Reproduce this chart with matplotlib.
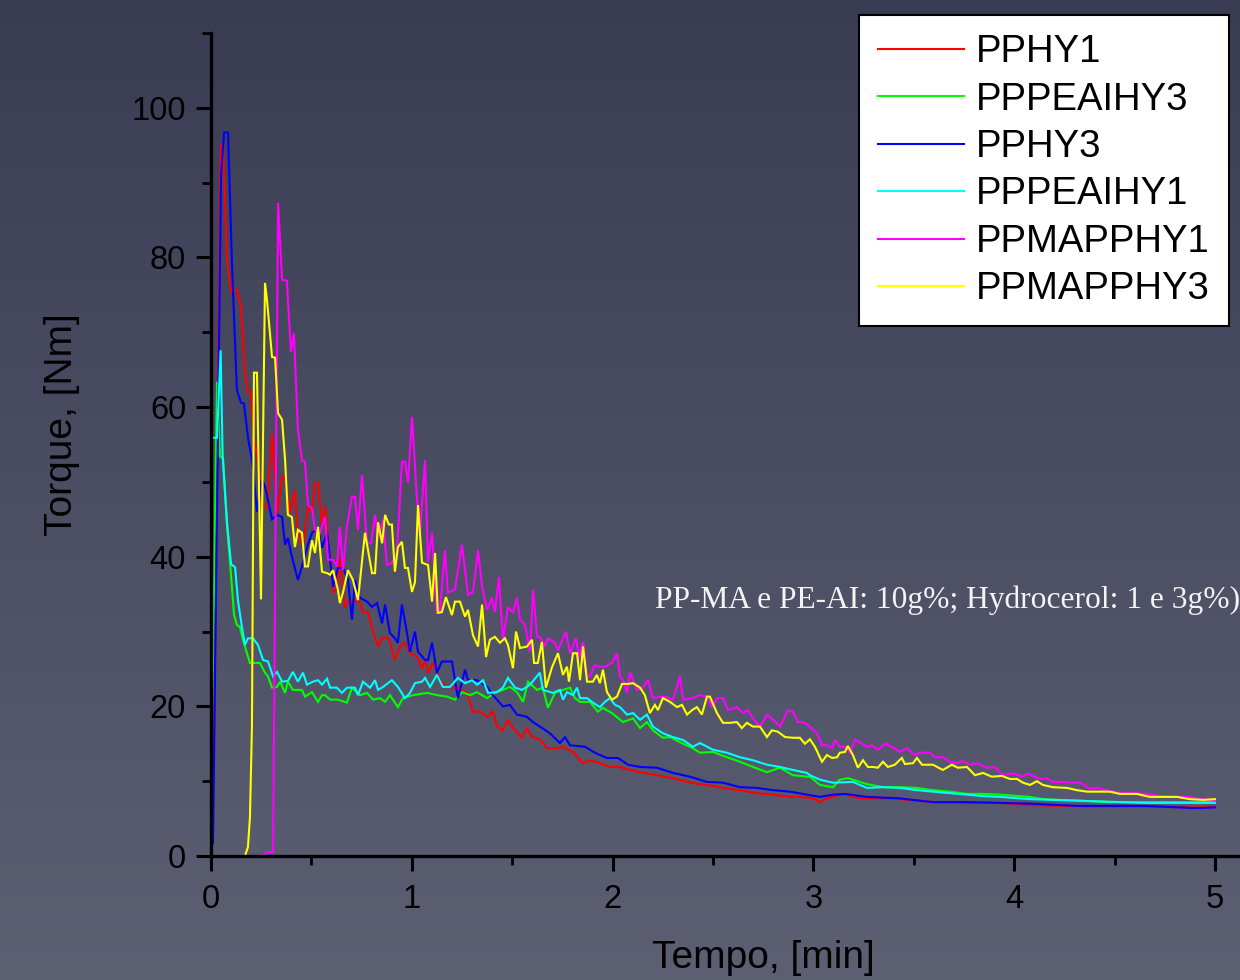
import numpy as np
import matplotlib
matplotlib.use("Agg")
import matplotlib.pyplot as plt
from matplotlib.ticker import MultipleLocator

# ---------------- data (time [min], torque [Nm]) ----------------
labels = ["PPHY1", "PPPEAIHY3", "PPHY3", "PPPEAIHY1", "PPMAPPHY1", "PPMAPPHY3"]
colors = ["#ff0000", "#00ff00", "#0000ff", "#00ffff", "#ff00ff", "#ffff00"]

pphy1 = [(0.015, 12.0), (0.045, 90.0), (0.050, 94.8), (0.060, 95.3), (0.080, 79.7), (0.100, 75.4), (0.129, 75.7), (0.149, 73.4), (0.169, 64.5), (0.184, 62.0), (0.199, 61.9), (0.214, 56.0), (0.244, 50.7), (0.259, 46.7), (0.279, 46.5), (0.304, 56.5), (0.329, 45.8), (0.354, 50.7), (0.369, 50.5), (0.393, 45.8), (0.418, 48.9), (0.433, 43.2), (0.458, 41.3), (0.483, 46.7), (0.503, 45.8), (0.518, 49.9), (0.533, 49.9), (0.553, 44.0), (0.568, 46.7), (0.593, 39.6), (0.608, 35.2), (0.627, 35.6), (0.642, 39.8), (0.667, 33.2), (0.682, 34.0), (0.717, 34.2), (0.742, 34.0), (0.757, 32.6), (0.782, 32.6), (0.807, 30.0), (0.832, 28.0), (0.852, 29.1), (0.876, 29.3), (0.891, 28.6), (0.916, 26.2), (0.941, 28.0), (0.966, 28.5), (0.991, 27.1), (1.026, 26.6), (1.051, 25.1), (1.066, 26.2), (1.081, 24.5), (1.106, 25.8), (1.140, 23.5), (1.175, 22.6), (1.225, 22.5), (1.275, 21.8), (1.305, 19.3), (1.340, 19.3), (1.375, 18.6), (1.404, 19.3), (1.424, 17.3), (1.454, 16.8), (1.479, 18.2), (1.504, 17.1), (1.549, 15.8), (1.574, 17.1), (1.599, 15.9), (1.638, 15.6), (1.673, 14.4), (1.723, 14.4), (1.753, 14.6), (1.803, 13.9), (1.853, 12.4), (1.887, 12.8), (1.937, 12.4), (1.987, 11.9), (2.037, 11.9), (2.087, 11.5), (2.137, 11.2), (2.221, 10.8), (2.301, 10.4), (2.386, 9.8), (2.470, 9.5), (2.550, 9.1), (2.634, 8.8), (2.719, 8.4), (2.799, 8.2), (2.883, 7.9), (2.933, 7.9), (2.998, 7.7), (3.033, 7.2), (3.068, 7.7), (3.147, 8.3), (3.232, 7.7), (3.347, 7.7), (3.431, 7.6), (3.596, 7.2), (3.765, 7.1), (3.929, 7.1), (4.079, 6.8), (4.427, 6.6), (4.676, 6.6), (4.925, 6.5), (5.000, 6.6)]

pppeaihy3 = [(0.005, 17.0), (0.030, 63.4), (0.045, 53.4), (0.060, 53.2), (0.080, 44.0), (0.095, 39.2), (0.115, 32.2), (0.129, 30.9), (0.144, 30.6), (0.159, 28.9), (0.194, 25.8), (0.244, 25.8), (0.269, 24.5), (0.284, 24.0), (0.304, 22.5), (0.329, 22.6), (0.344, 23.3), (0.369, 21.8), (0.383, 23.3), (0.408, 22.2), (0.453, 22.2), (0.468, 21.3), (0.503, 21.9), (0.533, 20.6), (0.553, 21.5), (0.568, 21.5), (0.593, 20.9), (0.632, 20.9), (0.677, 20.5), (0.702, 22.5), (0.742, 21.5), (0.777, 21.8), (0.807, 20.9), (0.842, 21.1), (0.867, 20.6), (0.891, 21.5), (0.931, 19.9), (0.956, 21.1), (1.006, 21.5), (1.076, 21.8), (1.125, 21.5), (1.175, 21.3), (1.215, 20.9), (1.250, 21.9), (1.290, 21.5), (1.325, 21.9), (1.375, 21.1), (1.414, 21.8), (1.454, 22.2), (1.489, 22.6), (1.524, 21.9), (1.554, 20.6), (1.579, 23.3), (1.624, 22.2), (1.653, 22.5), (1.678, 19.8), (1.713, 21.8), (1.753, 22.2), (1.788, 22.5), (1.813, 21.1), (1.838, 20.6), (1.887, 20.6), (1.927, 19.3), (1.952, 19.8), (1.997, 19.1), (2.052, 17.9), (2.102, 18.4), (2.137, 17.1), (2.171, 17.9), (2.201, 16.8), (2.251, 15.8), (2.286, 15.9), (2.336, 15.2), (2.400, 14.4), (2.435, 13.8), (2.500, 13.9), (2.570, 13.2), (2.634, 12.6), (2.699, 11.9), (2.769, 11.2), (2.834, 11.8), (2.898, 10.8), (2.968, 10.6), (2.983, 10.6), (3.033, 9.5), (3.098, 9.2), (3.132, 10.2), (3.172, 10.4), (3.197, 10.2), (3.267, 9.6), (3.347, 9.2), (3.431, 9.2), (3.516, 9.1), (3.596, 8.8), (3.680, 8.6), (3.765, 8.3), (3.845, 8.3), (3.929, 8.2), (4.079, 7.9), (4.143, 7.6), (4.313, 7.4), (4.477, 7.2), (4.641, 7.2), (4.811, 7.2), (5.000, 7.2)]

pphy3 = [(0.000, 1.5), (0.010, 1.7), (0.050, 91.0), (0.065, 96.7), (0.085, 96.7), (0.105, 78.7), (0.129, 62.3), (0.149, 60.6), (0.164, 60.5), (0.184, 56.0), (0.209, 52.0), (0.229, 46.0), (0.254, 50.3), (0.269, 49.4), (0.304, 45.0), (0.329, 45.6), (0.354, 45.3), (0.369, 41.6), (0.383, 42.5), (0.403, 40.0), (0.433, 36.9), (0.453, 38.7), (0.478, 41.2), (0.503, 43.2), (0.533, 43.8), (0.553, 41.2), (0.578, 43.2), (0.608, 36.0), (0.632, 38.5), (0.657, 38.5), (0.682, 37.0), (0.702, 31.6), (0.717, 36.9), (0.742, 34.5), (0.777, 34.0), (0.802, 33.3), (0.827, 33.8), (0.852, 31.1), (0.867, 33.6), (0.891, 29.8), (0.916, 29.1), (0.931, 28.5), (0.951, 33.6), (0.976, 29.8), (0.991, 27.3), (1.016, 30.0), (1.031, 27.3), (1.066, 26.2), (1.081, 26.2), (1.101, 28.5), (1.125, 24.5), (1.150, 26.0), (1.200, 26.0), (1.230, 21.1), (1.265, 24.9), (1.280, 23.5), (1.325, 23.5), (1.375, 22.6), (1.404, 21.5), (1.454, 20.0), (1.489, 20.2), (1.524, 18.9), (1.574, 18.6), (1.604, 17.9), (1.638, 17.3), (1.688, 16.4), (1.738, 15.1), (1.763, 15.9), (1.788, 14.8), (1.863, 14.6), (1.912, 13.8), (1.972, 13.1), (2.027, 13.1), (2.077, 12.2), (2.137, 11.9), (2.221, 11.8), (2.301, 11.1), (2.386, 10.6), (2.470, 9.9), (2.550, 9.8), (2.634, 9.2), (2.719, 9.1), (2.799, 8.8), (2.883, 8.6), (2.968, 8.2), (3.033, 7.9), (3.098, 8.2), (3.157, 8.3), (3.267, 7.9), (3.431, 7.7), (3.596, 7.2), (3.765, 7.2), (3.929, 7.1), (4.079, 7.0), (4.313, 6.7), (4.641, 6.7), (4.910, 6.4), (5.000, 6.5)]

pppeaihy1 = [(0.010, 55.9), (0.030, 55.9), (0.048, 67.6), (0.058, 53.4), (0.080, 44.5), (0.100, 39.0), (0.120, 38.6), (0.134, 34.2), (0.154, 30.6), (0.169, 28.2), (0.184, 29.1), (0.209, 29.1), (0.234, 28.2), (0.259, 26.2), (0.284, 26.0), (0.309, 24.0), (0.329, 24.6), (0.354, 23.3), (0.383, 23.4), (0.408, 24.6), (0.433, 23.3), (0.458, 24.5), (0.478, 22.9), (0.508, 23.3), (0.533, 23.5), (0.553, 22.9), (0.578, 23.7), (0.593, 22.5), (0.627, 22.5), (0.652, 21.8), (0.677, 22.5), (0.717, 22.5), (0.732, 21.5), (0.757, 23.3), (0.792, 22.5), (0.817, 23.5), (0.832, 22.2), (0.857, 22.6), (0.901, 23.5), (0.931, 22.6), (0.966, 21.1), (0.991, 21.8), (1.016, 23.1), (1.051, 23.3), (1.066, 23.8), (1.091, 22.6), (1.125, 24.2), (1.155, 22.6), (1.190, 22.6), (1.230, 23.8), (1.265, 23.1), (1.300, 23.5), (1.325, 22.9), (1.355, 23.5), (1.380, 21.8), (1.424, 21.9), (1.454, 22.5), (1.479, 23.8), (1.514, 22.5), (1.549, 22.2), (1.589, 22.9), (1.638, 24.5), (1.653, 22.2), (1.703, 21.8), (1.738, 22.2), (1.753, 20.9), (1.773, 21.9), (1.803, 21.5), (1.823, 22.5), (1.838, 21.1), (1.873, 21.1), (1.902, 20.5), (1.937, 19.9), (1.962, 20.6), (1.987, 21.1), (2.012, 20.2), (2.037, 19.9), (2.072, 18.9), (2.102, 19.1), (2.137, 18.2), (2.171, 18.9), (2.201, 17.3), (2.251, 16.4), (2.301, 15.9), (2.351, 15.5), (2.400, 14.6), (2.435, 15.1), (2.500, 14.2), (2.570, 13.8), (2.634, 13.2), (2.699, 12.8), (2.769, 12.2), (2.834, 11.9), (2.898, 11.5), (2.968, 11.1), (2.983, 10.8), (3.033, 10.2), (3.098, 9.8), (3.197, 9.9), (3.267, 9.1), (3.347, 9.2), (3.431, 9.1), (3.516, 8.8), (3.596, 8.6), (3.680, 8.4), (3.765, 8.2), (3.845, 8.0), (3.929, 7.9), (4.079, 7.6), (4.313, 7.4), (4.641, 7.1), (5.000, 7.1)]

ppmapphy1 = [(0.000, 0.0), (0.254, 0.0), (0.279, 0.5), (0.309, 0.5), (0.334, 87.3), (0.354, 77.0), (0.378, 76.9), (0.398, 67.4), (0.413, 69.9), (0.433, 57.0), (0.453, 52.9), (0.468, 52.7), (0.483, 46.9), (0.503, 46.5), (0.518, 43.6), (0.543, 43.2), (0.568, 45.3), (0.583, 39.6), (0.608, 39.6), (0.627, 38.7), (0.642, 44.0), (0.657, 38.2), (0.677, 44.0), (0.702, 48.0), (0.717, 48.0), (0.732, 43.6), (0.752, 50.9), (0.777, 41.8), (0.797, 41.8), (0.817, 45.6), (0.832, 42.6), (0.857, 44.9), (0.876, 38.9), (0.901, 39.2), (0.926, 40.5), (0.951, 52.7), (0.966, 52.7), (0.981, 49.9), (1.001, 58.7), (1.026, 47.6), (1.041, 43.3), (1.066, 52.9), (1.081, 39.3), (1.101, 43.2), (1.125, 32.5), (1.140, 32.5), (1.165, 40.9), (1.180, 35.2), (1.215, 35.6), (1.250, 41.6), (1.280, 34.9), (1.305, 35.3), (1.330, 40.9), (1.350, 36.0), (1.375, 32.9), (1.399, 34.5), (1.414, 32.6), (1.434, 37.3), (1.454, 28.9), (1.479, 33.3), (1.504, 32.5), (1.524, 34.5), (1.539, 31.6), (1.564, 30.9), (1.589, 27.3), (1.604, 35.6), (1.624, 29.3), (1.638, 29.3), (1.663, 28.0), (1.678, 29.1), (1.713, 28.5), (1.728, 27.5), (1.768, 30.0), (1.788, 27.1), (1.818, 29.1), (1.833, 26.5), (1.853, 28.6), (1.873, 24.0), (1.887, 24.0), (1.912, 25.5), (1.937, 25.3), (1.962, 25.3), (1.997, 25.8), (2.022, 27.1), (2.037, 24.0), (2.052, 23.5), (2.072, 21.8), (2.087, 24.5), (2.122, 22.2), (2.151, 22.5), (2.176, 23.5), (2.201, 21.1), (2.236, 21.3), (2.261, 21.3), (2.301, 20.9), (2.336, 24.0), (2.351, 20.9), (2.400, 21.1), (2.435, 21.5), (2.470, 21.3), (2.495, 19.9), (2.520, 21.1), (2.550, 21.1), (2.575, 19.5), (2.619, 19.9), (2.649, 19.1), (2.674, 19.5), (2.699, 18.4), (2.734, 17.3), (2.769, 18.9), (2.799, 18.2), (2.834, 17.3), (2.873, 19.5), (2.898, 19.3), (2.923, 17.9), (2.948, 17.9), (2.973, 17.5), (3.018, 16.4), (3.043, 14.8), (3.068, 14.8), (3.093, 14.4), (3.108, 15.5), (3.132, 14.6), (3.157, 14.6), (3.182, 13.8), (3.207, 15.5), (3.232, 15.2), (3.267, 14.6), (3.292, 14.8), (3.321, 14.2), (3.357, 15.0), (3.391, 14.6), (3.431, 13.9), (3.466, 14.4), (3.506, 13.5), (3.531, 13.8), (3.581, 13.8), (3.606, 13.2), (3.645, 13.2), (3.680, 12.6), (3.715, 12.4), (3.745, 12.7), (3.780, 12.2), (3.815, 12.4), (3.865, 11.8), (3.904, 11.9), (3.944, 10.8), (3.979, 11.0), (4.004, 11.0), (4.039, 10.6), (4.069, 11.0), (4.128, 10.3), (4.163, 10.4), (4.193, 9.9), (4.243, 9.9), (4.278, 9.8), (4.328, 9.8), (4.377, 9.0), (4.412, 9.1), (4.477, 8.7), (4.542, 8.4), (4.592, 8.4), (4.661, 8.3), (4.726, 8.0), (4.811, 7.9), (4.875, 7.9), (4.940, 7.6), (5.000, 7.4)]

ppmapphy3 = [(0.000, 0.0), (0.169, 0.0), (0.184, 1.2), (0.194, 5.2), (0.204, 17.3), (0.214, 64.6), (0.229, 64.6), (0.249, 34.3), (0.269, 76.6), (0.279, 74.3), (0.304, 66.7), (0.319, 66.6), (0.334, 59.2), (0.354, 58.3), (0.369, 52.9), (0.383, 45.6), (0.403, 45.3), (0.418, 41.3), (0.433, 43.6), (0.453, 43.2), (0.468, 38.7), (0.483, 38.7), (0.503, 42.2), (0.518, 40.5), (0.533, 44.0), (0.553, 38.0), (0.578, 37.8), (0.593, 37.6), (0.608, 38.2), (0.632, 35.6), (0.642, 33.8), (0.657, 35.2), (0.682, 38.2), (0.707, 36.9), (0.732, 34.2), (0.767, 43.2), (0.802, 37.8), (0.817, 37.8), (0.832, 44.6), (0.852, 41.8), (0.867, 45.6), (0.886, 44.3), (0.901, 44.3), (0.916, 38.0), (0.931, 41.3), (0.951, 42.0), (0.966, 38.5), (0.981, 38.5), (1.001, 35.3), (1.016, 36.6), (1.031, 46.9), (1.051, 39.2), (1.081, 38.9), (1.101, 34.0), (1.116, 40.5), (1.130, 32.5), (1.150, 32.6), (1.170, 34.6), (1.200, 32.2), (1.215, 34.0), (1.240, 34.0), (1.265, 32.0), (1.280, 32.9), (1.305, 29.5), (1.330, 28.0), (1.350, 33.6), (1.370, 26.6), (1.389, 28.9), (1.414, 29.3), (1.439, 28.5), (1.464, 29.1), (1.479, 28.2), (1.504, 25.1), (1.519, 30.0), (1.539, 27.8), (1.574, 28.0), (1.599, 28.9), (1.609, 25.8), (1.628, 25.8), (1.648, 28.6), (1.668, 22.5), (1.698, 25.2), (1.728, 27.1), (1.753, 24.2), (1.773, 25.3), (1.783, 23.3), (1.803, 27.1), (1.823, 27.1), (1.838, 23.5), (1.853, 28.0), (1.873, 23.3), (1.902, 23.3), (1.922, 24.2), (1.937, 23.1), (1.952, 24.9), (1.972, 21.9), (1.997, 20.9), (2.022, 21.3), (2.047, 23.0), (2.077, 23.0), (2.102, 23.1), (2.137, 22.5), (2.161, 21.5), (2.186, 19.1), (2.211, 20.2), (2.226, 19.5), (2.251, 21.1), (2.286, 20.6), (2.321, 19.9), (2.346, 20.2), (2.371, 18.9), (2.396, 19.5), (2.420, 19.9), (2.445, 18.9), (2.470, 21.3), (2.485, 21.3), (2.520, 19.1), (2.550, 17.8), (2.585, 17.8), (2.619, 17.9), (2.644, 17.1), (2.669, 17.8), (2.699, 17.3), (2.734, 17.3), (2.769, 15.9), (2.794, 16.8), (2.824, 16.6), (2.859, 15.9), (2.898, 15.8), (2.933, 15.8), (2.958, 15.0), (2.983, 15.6), (3.008, 14.6), (3.043, 12.6), (3.068, 13.5), (3.093, 13.1), (3.118, 13.2), (3.132, 13.8), (3.157, 13.9), (3.172, 14.7), (3.197, 13.5), (3.222, 11.8), (3.247, 12.8), (3.272, 11.9), (3.296, 11.9), (3.321, 11.8), (3.347, 12.6), (3.371, 11.9), (3.406, 12.2), (3.441, 13.1), (3.456, 12.3), (3.496, 12.4), (3.516, 13.1), (3.541, 12.2), (3.596, 12.2), (3.645, 11.5), (3.690, 12.2), (3.720, 11.8), (3.765, 11.9), (3.805, 10.8), (3.845, 11.1), (3.889, 10.6), (3.939, 10.7), (3.979, 10.3), (4.014, 10.3), (4.044, 9.8), (4.079, 9.5), (4.114, 10.0), (4.143, 9.5), (4.193, 9.2), (4.263, 9.1), (4.313, 8.8), (4.363, 8.6), (4.477, 8.6), (4.527, 8.3), (4.611, 8.3), (4.676, 7.9), (4.741, 7.9), (4.811, 7.9), (4.875, 7.6), (4.940, 7.5), (5.000, 7.6)]

series = [pphy1, pppeaihy3, pphy3, pppeaihy1, ppmapphy1, ppmapphy3]

x_major = [0, 1, 2, 3, 4, 5]
y_major = [0, 20, 40, 60, 80, 100]
annotation = "PP-MA e PE-AI: 10g%; Hydrocerol: 1 e 3g%)"

# ---------------- figure ----------------
W, H = 1240, 980
fig = plt.figure(figsize=(W / 100, H / 100), dpi=100)

# gradient background
bg = fig.add_axes([0, 0, 1, 1], zorder=0)
top = np.array([58, 60, 84]) / 255.0
bot = np.array([93, 95, 115]) / 255.0
f = np.linspace(0, 1, 256)[:, None]
grad = (top[None, :] * (1 - f) + bot[None, :] * f)[:, None, :]
bg.imshow(grad, aspect="auto", extent=[0, 1, 0, 1], interpolation="bicubic")
bg.set_axis_off()

ax = fig.add_axes([211 / W, 124 / H, 1 - 211 / W, (856 - 33) / H], zorder=1)
ax.patch.set_alpha(0)

for data, lab, col in zip(series, labels, colors):
    arr = np.array(data)
    ax.plot(arr[:, 0], arr[:, 1], color=col, lw=1.5, label=lab, solid_joinstyle="miter")

ax.set_xlim(0, 5.125)
ax.set_ylim(0, 110)
ax.set_xticks(x_major)
ax.set_yticks(y_major)
ax.xaxis.set_minor_locator(MultipleLocator(0.5))
ax.yaxis.set_minor_locator(MultipleLocator(10))

for s in ["top", "right"]:
    ax.spines[s].set_visible(False)
for s in ["left", "bottom"]:
    ax.spines[s].set_linewidth(2.4)
    ax.spines[s].set_color("black")

ax.tick_params(which="major", direction="out", length=11, width=2.2, color="black",
               labelcolor="black", labelsize=23.5, pad=7)
ax.tick_params(axis="x", which="major", pad=9)
ax.tick_params(which="minor", direction="out", length=6.5, width=2.0, color="black")
for lab in ax.get_xticklabels() + ax.get_yticklabels():
    lab.set_fontfamily("Liberation Sans")

ax.set_xlabel("Tempo, [min]", fontsize=28, family="Liberation Sans", color="black")
ax.set_ylabel("Torque, [Nm]", fontsize=28, family="Liberation Sans", color="black")
ax.xaxis.set_label_coords((763 - 211) / 1029, (856 - 958) / 823)
ax.xaxis.label.set_va("center")
ax.yaxis.set_label_coords((62 - 211) / 1029, (856 - 425) / 823)
ax.yaxis.label.set_va("center")

leg = ax.legend(loc="upper left", bbox_to_anchor=(859 / W, 1 - 15 / H),
                bbox_transform=fig.transFigure, prop=dict(family="Liberation Sans", size=27.5),
                frameon=True, fancybox=False, edgecolor="black", framealpha=1,
                borderpad=0.5, labelspacing=0.30, handlelength=2.24, handletextpad=0.32,
                borderaxespad=0)
leg.get_frame().set_linewidth(1.5)
for ln in leg.get_lines():
    ln.set_linewidth(1.5)

fig.text(655 / W, 1 - 608 / H, annotation, color="#f4f4f4", fontsize=22.7,
         family="Liberation Serif", ha="left", va="baseline", zorder=3)

fig.savefig("out.png", dpi=100)
